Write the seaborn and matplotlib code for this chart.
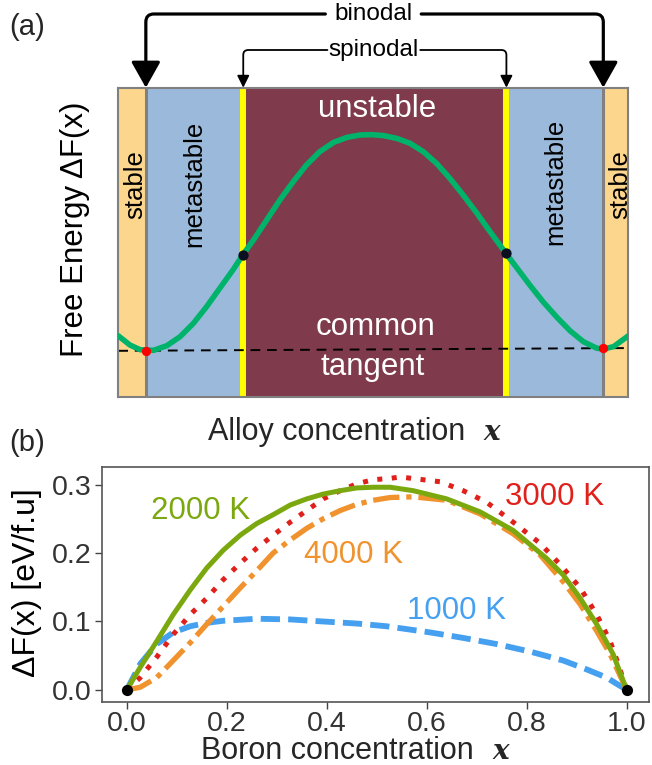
import numpy as np
import pandas as pd
import matplotlib
matplotlib.use("Agg")
import matplotlib.pyplot as plt
import seaborn as sns

# ---------------- Panel (a) schematic data ----------------
region_edges = [0.0, 0.054, 0.245, 0.761, 0.951, 1.0]
region_names = ["stable", "metastable", "unstable", "metastable", "stable"]
binodal_x = [0.054, 0.951]
spinodal_x = [0.245, 0.761]

schem_x = [0.0, 0.023, 0.043, 0.069, 0.095, 0.121, 0.147, 0.173, 0.199, 0.226,
           0.244, 0.265, 0.291, 0.317, 0.343, 0.369, 0.395, 0.422, 0.448, 0.474,
           0.497, 0.520, 0.546, 0.572, 0.598, 0.624, 0.650, 0.676, 0.703, 0.729,
           0.760, 0.781, 0.807, 0.833, 0.860, 0.886, 0.912, 0.938, 0.951, 0.971, 1.0]
schem_f = [0.197, 0.167, 0.152, 0.150, 0.165, 0.194, 0.237, 0.291, 0.351, 0.413,
           0.459, 0.507, 0.572, 0.637, 0.696, 0.750, 0.793, 0.823, 0.839, 0.847,
           0.848, 0.845, 0.836, 0.820, 0.793, 0.755, 0.707, 0.653, 0.594, 0.534,
           0.464, 0.418, 0.361, 0.307, 0.257, 0.213, 0.178, 0.157, 0.154, 0.162, 0.197]
spinodal_pts_y = [0.459, 0.464]
binodal_pts_y = [0.149, 0.157]
tangent_x = [0.0, 1.0]
tangent_y = [0.1485, 0.1574]

# ---------------- Panel (b) data ----------------
bx_2000 = [0.0, 0.027, 0.060, 0.093, 0.127, 0.160, 0.193, 0.227, 0.260, 0.293, 0.327,
           0.360, 0.393, 0.427, 0.460, 0.493, 0.527, 0.573, 0.640, 0.707, 0.773, 0.840,
           0.873, 0.907, 0.940, 0.973, 1.0]
by_2000 = [0.0, 0.033, 0.071, 0.110, 0.146, 0.178, 0.204, 0.226, 0.243, 0.256, 0.270,
           0.279, 0.286, 0.291, 0.295, 0.296, 0.296, 0.291, 0.279, 0.260, 0.233, 0.192,
           0.168, 0.134, 0.096, 0.052, 0.0]
bx_3000 = [0.0, 0.027, 0.060, 0.093, 0.127, 0.160, 0.193, 0.227, 0.260, 0.293, 0.327,
           0.360, 0.393, 0.427, 0.460, 0.493, 0.527, 0.547, 0.627, 0.673, 0.720, 0.773,
           0.827, 0.867, 0.907, 0.940, 0.967, 0.983, 1.0]
by_3000 = [0.0, 0.018, 0.048, 0.081, 0.110, 0.134, 0.161, 0.185, 0.207, 0.226, 0.245,
           0.262, 0.279, 0.291, 0.301, 0.307, 0.309, 0.311, 0.304, 0.291, 0.274, 0.245,
           0.214, 0.183, 0.149, 0.110, 0.071, 0.038, 0.0]
bx_4000 = [0.0, 0.027, 0.060, 0.093, 0.127, 0.160, 0.193, 0.227, 0.260, 0.293, 0.327,
           0.360, 0.393, 0.427, 0.460, 0.493, 0.527, 0.573, 0.640, 0.707, 0.773, 0.827,
           0.873, 0.907, 0.940, 0.967, 1.0]
by_4000 = [0.0, 0.004, 0.018, 0.043, 0.069, 0.096, 0.122, 0.149, 0.174, 0.200, 0.219,
           0.236, 0.250, 0.262, 0.271, 0.277, 0.281, 0.282, 0.277, 0.257, 0.228, 0.197,
           0.158, 0.125, 0.086, 0.052, 0.0]
bx_1000 = [0.0, 0.027, 0.060, 0.093, 0.127, 0.160, 0.193, 0.260, 0.327, 0.393, 0.460,
           0.520, 0.607, 0.673, 0.740, 0.807, 0.873, 0.920, 0.960, 1.0]
by_1000 = [0.0, 0.038, 0.067, 0.084, 0.093, 0.098, 0.101, 0.104, 0.103, 0.100, 0.097,
           0.093, 0.084, 0.076, 0.067, 0.056, 0.043, 0.030, 0.018, 0.0]
end_x = [0.0, 1.0]
end_y = [0.0, 0.0]
xticks_b = [0.0, 0.2, 0.4, 0.6, 0.8, 1.0]
yticks_b = [0.0, 0.1, 0.2, 0.3]

sns.set_theme(style="white")
plt.rcParams['font.family'] = ['Liberation Sans', 'DejaVu Sans']
SERIF = ["DejaVu Serif", "Liberation Serif"]

W, H = 652, 765
fig = plt.figure(figsize=(W / 100, H / 100), dpi=100)
ax_a = fig.add_axes([118.3 / W, 1 - 396.7 / H, 510 / W, 309 / H])
ax_b = fig.add_axes([101.7 / W, 1 - 702.3 / H, (649 - 101.7) / W, (702.3 - 466.7) / H])

# ---- panel a ----
region_colors = ["#FDD68E", "#9BBADB", "#7F3A4B", "#9BBADB", "#FDD68E"]
for i, c in enumerate(region_colors):
    ax_a.axvspan(region_edges[i], region_edges[i + 1], color=c, lw=0, zorder=0)
for xv in binodal_x:
    ax_a.axvline(xv, color="#808080", lw=2.2, zorder=1)
for xv in spinodal_x:
    ax_a.axvline(xv, color="#FFFF00", lw=4.3, zorder=1)

ax_a.plot(tangent_x, tangent_y, color="black", lw=1.4, ls=(0, (5, 3.5)), zorder=2)
sns.lineplot(x=schem_x, y=schem_f, ax=ax_a, color="#00B36B", lw=4.0, sort=False, zorder=3)
ax_a.scatter(spinodal_x, spinodal_pts_y, s=55, color="#0A1020", zorder=5, linewidths=0)
ax_a.scatter(binodal_x, binodal_pts_y, s=45, color="#FF0000", zorder=5, linewidths=0)

ax_a.set_xlim(0, 1)
ax_a.set_ylim(0, 1)
ax_a.set_xticks([])
ax_a.set_yticks([])
for s in ax_a.spines.values():
    s.set_color("#808080")
    s.set_linewidth(1.5)
ax_a.set_ylabel("")
fig.text(75 / W, 1 - 229 / H, "Free Energy ΔF(x)", fontsize=22.5, rotation=90,
         ha="center", va="center", color="black")

ax_a.text(0.507, 0.906, "unstable", color="white", fontsize=22.5, ha="center", va="baseline")
ax_a.text(0.504, 0.200, "common", color="white", fontsize=22.5, ha="center", va="baseline")
ax_a.text(0.499, 0.070, "tangent", color="white", fontsize=22.5, ha="center", va="baseline")
for xc, yc, lab in [(0.033, 0.685, "stable"), (0.150, 0.690, "metastable"),
                    (0.856, 0.694, "metastable"), (0.984, 0.685, "stable")]:
    ax_a.text(xc, yc, lab, rotation=90, fontsize=18.5, ha="center", va="center", color="black")

# binodal / spinodal annotations
ax_a.text(0.501, 1.2385, "binodal", fontsize=17.5, ha="center", va="center", color="black")
ax_a.text(0.501, 1.122, "spinodal", fontsize=17.5, ha="center", va="center", color="black")
for (x0, x1) in [(0.406, binodal_x[0]), (0.594, binodal_x[1])]:
    ax_a.annotate("", xy=(x1, 1.0), xytext=(x0, 1.2385), xycoords="data",
                  arrowprops=dict(arrowstyle="-|>,head_length=0.8,head_width=0.45",
                                  connectionstyle="angle,angleA=0,angleB=90,rad=8",
                                  lw=2.3, color="black", shrinkA=0, shrinkB=0,
                                  mutation_scale=20),
                  annotation_clip=False)
for (x0, x1) in [(0.41, spinodal_x[0]), (0.592, spinodal_x[1])]:
    ax_a.annotate("", xy=(x1, 1.0), xytext=(x0, 1.122), xycoords="data",
                  arrowprops=dict(arrowstyle="-|>,head_length=0.6,head_width=0.3",
                                  connectionstyle="angle,angleA=0,angleB=90,rad=5",
                                  lw=1.3, color="black", shrinkA=0, shrinkB=0,
                                  mutation_scale=12),
                  annotation_clip=False)

fig.text(9 / W, 1 - 27 / H, "(a)", fontsize=21, ha="left", va="center")
fig.text(9 / W, 1 - 443 / H, "(b)", fontsize=21, ha="left", va="center")
fig.text(208 / W, 1 - 440 / H, "Alloy concentration", fontsize=22, ha="left", va="baseline")
fig.text(483 / W, 1 - 440 / H, "x", fontsize=20, ha="left", va="baseline",
         family=SERIF, style="italic", weight="bold")

# ---- panel b ----
sns.lineplot(x=bx_1000, y=by_1000, ax=ax_b, color="#45A0F0", lw=4.2,
             linestyle=(0, (3.3, 1.4)), zorder=2)
sns.lineplot(x=bx_4000, y=by_4000, ax=ax_b, color="#F0922E", lw=3.8,
             linestyle=(0, (5, 1.3, 1, 1.3)), zorder=3)
sns.lineplot(x=bx_3000, y=by_3000, ax=ax_b, color="#E0201B", lw=3.6,
             linestyle=(0, (1, 1.9)), zorder=4)
sns.lineplot(x=bx_2000, y=by_2000, ax=ax_b, color="#7BA80F", lw=3.6, zorder=5)
ax_b.scatter(end_x, end_y, s=65, color="black", zorder=6, clip_on=False, linewidths=0)

ax_b.text(0.147, 0.262, "2000 K", color="#7BA80F", fontsize=22.5, ha="center", va="center")
ax_b.text(0.855, 0.282, "3000 K", color="#E0201B", fontsize=22.5, ha="center", va="center")
ax_b.text(0.453, 0.197, "4000 K", color="#F0922E", fontsize=22.5, ha="center", va="center")
ax_b.text(0.660, 0.115, "1000 K", color="#45A0F0", fontsize=22.5, ha="center", va="center")

ax_b.set_xlim(-0.05, 1.0446)
ax_b.set_ylim(-0.018, 0.326)
ax_b.set_xticks(xticks_b)
ax_b.set_xticklabels([f"{v:.1f}" for v in xticks_b])
ax_b.set_yticks(yticks_b)
ax_b.set_yticklabels([f"{v:.1f}" for v in yticks_b])
ax_b.tick_params(axis="both", which="both", direction="out", length=5, width=1,
                 colors="#444444", labelcolor="#333333", labelsize=20.5,
                 bottom=True, left=True, pad=2)
ax_b.tick_params(axis="x", pad=1)
for s in ax_b.spines.values():
    s.set_color("#555555")
    s.set_linewidth(1.2)
ax_b.set_ylabel("")
ax_b.set_xlabel("")
fig.text(27.5 / W, 1 - 582.5 / H, "ΔF(x) [eV/f.u]", fontsize=23, rotation=90,
         ha="center", va="center", color="black")
fig.text(201 / W, 1 - 759 / H, "Boron concentration", fontsize=22, ha="left", va="baseline")
fig.text(492 / W, 1 - 759 / H, "x", fontsize=20, ha="left", va="baseline",
         family=SERIF, style="italic", weight="bold")

fig.savefig("out.png", dpi=100)
